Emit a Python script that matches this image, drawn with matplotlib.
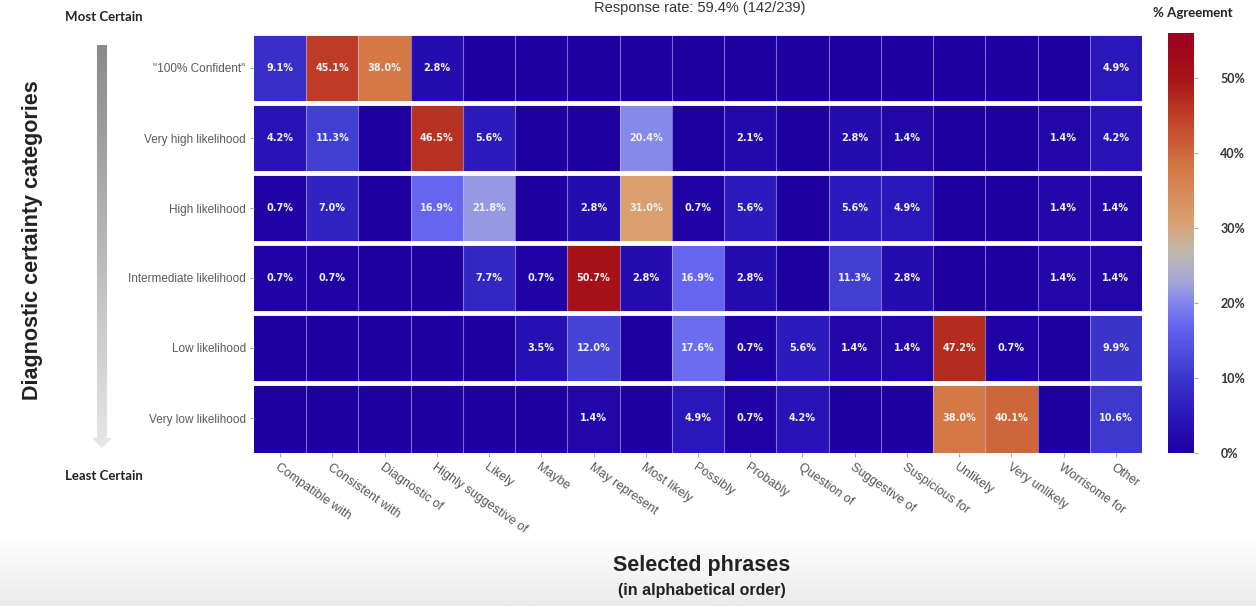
import numpy as np
import matplotlib
matplotlib.use('Agg')
import matplotlib.pyplot as plt
from matplotlib.colors import LinearSegmentedColormap
from matplotlib.patches import Polygon

phrases = ['Compatible with', 'Consistent with', 'Diagnostic of', 'Highly suggestive of',
           'Likely', 'Maybe', 'May represent', 'Most likely', 'Possibly', 'Probably',
           'Question of', 'Suggestive of', 'Suspicious for', 'Unlikely', 'Very unlikely',
           'Worrisome for', 'Other']
categories = ['"100% Confident"', 'Very high likelihood', 'High likelihood',
              'Intermediate likelihood', 'Low likelihood', 'Very low likelihood']

# % agreement per phrase, one list per certainty category
confident_100 = [9.1, 45.1, 38.0, 2.8, 0, 0, 0, 0, 0, 0, 0, 0, 0, 0, 0, 0, 4.9]
very_high = [4.2, 11.3, 0, 46.5, 5.6, 0, 0, 20.4, 0, 2.1, 0, 2.8, 1.4, 0, 0, 1.4, 4.2]
high = [0.7, 7.0, 0, 16.9, 21.8, 0, 2.8, 31.0, 0.7, 5.6, 0, 5.6, 4.9, 0, 0, 1.4, 1.4]
intermediate = [0.7, 0.7, 0, 0, 7.7, 0.7, 50.7, 2.8, 16.9, 2.8, 0, 11.3, 2.8, 0, 0, 1.4, 1.4]
low = [0, 0, 0, 0, 0, 3.5, 12.0, 0, 17.6, 0.7, 5.6, 1.4, 1.4, 47.2, 0.7, 0, 9.9]
very_low = [0, 0, 0, 0, 0, 0, 1.4, 0, 4.9, 0.7, 4.2, 0, 0, 38.0, 40.1, 0, 10.6]

cbar_ticks = [0, 10, 20, 30, 40, 50]
vmax = 56

agreement = np.array([confident_100, very_high, high, intermediate, low, very_low])

cmap = LinearSegmentedColormap.from_list('agree', [
    (0.00, '#1e00a0'), (0.08, '#2a14b8'), (0.18, '#3a36cc'), (0.30, '#6464f0'),
    (0.36, '#8286ec'), (0.41, '#a4a8d8'), (0.48, '#c2b8ac'), (0.55, '#d9a070'),
    (0.68, '#d47844'), (0.80, '#c04028'), (0.89, '#a81418'), (1.00, '#9a0020')])

W, H = 1256, 606
fig = plt.figure(figsize=(W / 100, H / 100), dpi=100)


def box(l, t, r, b):
    return [l / W, 1 - b / H, (r - l) / W, (b - t) / H]


# faint grey fade along the bottom edge
bg = fig.add_axes([0, 0, 1, 70 / H], zorder=-10)
bg.imshow(np.linspace(0, 1, 60)[:, None],
          cmap=LinearSegmentedColormap.from_list('bg', ['#ffffff', '#ebebeb']),
          aspect='auto', extent=[0, 1, 0, 1])
bg.axis('off')

ax = fig.add_axes(box(254, 33, 1142, 453))
mesh = ax.pcolormesh(np.arange(len(phrases) + 1), np.arange(len(categories) + 1),
                     agreement, cmap=cmap, vmin=0, vmax=vmax)
ax.set_xlim(0, len(phrases))
ax.set_ylim(len(categories), 0)
for x in range(1, len(phrases)):
    ax.axvline(x, color='#c8c0ff', lw=0.8, alpha=0.55)
for y in range(0, len(categories)):
    ax.axhline(y, color='white', lw=3.5)

for i in range(len(categories)):
    for j in range(len(phrases)):
        v = agreement[i, j]
        if v > 0:
            ax.text(j + 0.5, i + 0.5, f'{v:.1f}%', ha='center', va='center',
                    fontsize=7, fontweight='bold', color='#f0f0f0')

ax.set_xticks(np.arange(len(phrases)) + 0.5)
ax.set_xticklabels(phrases, rotation=-35, ha='left', va='top', rotation_mode='anchor',
                   fontsize=9, color='#555555', family='Liberation Sans')
ax.set_yticks(np.arange(len(categories)) + 0.5)
ax.set_yticklabels(categories, fontsize=8.5, color='#5a5a5a', family='Liberation Sans')
ax.tick_params(length=3, color='#aaaaaa', pad=3)
for s in ax.spines.values():
    s.set_visible(False)

cax = fig.add_axes(box(1168, 33, 1194, 453))
cb = fig.colorbar(mesh, cax=cax, ticks=cbar_ticks)
cb.set_ticklabels([f'{t}%' for t in cbar_ticks])
cb.outline.set_visible(False)
cax.tick_params(length=3, color='#aaaaaa', pad=16, labelsize=9, labelcolor='#333333')
for lab in cax.get_yticklabels():
    lab.set_fontweight('bold')
    lab.set_family('Lato')

# grey certainty arrow on the left
arr = fig.add_axes(box(90, 45, 114, 448))
arr.set_xlim(0, 1)
arr.set_ylim(0, 1)
arr.axis('off')
grad = arr.imshow(np.linspace(0, 1, 100)[:, None],
                  cmap=LinearSegmentedColormap.from_list('g', ['#8a8a8a', '#e6e6e6']),
                  extent=[0, 1, 0, 1], aspect='auto')
head = 0.025
poly = Polygon([(0.29, 1), (0.71, 1), (0.71, head), (0.92, head), (0.5, 0),
                (0.08, head), (0.29, head)], closed=True, transform=arr.transAxes,
               facecolor='none', edgecolor='none')
arr.add_patch(poly)
grad.set_clip_path(poly)

fig.text(104 / W, 1 - 17 / H, 'Most Certain', ha='center', va='center',
         fontsize=9.5, fontweight='bold', family='Lato', color='#222222')
fig.text(104 / W, 1 - 476 / H, 'Least Certain', ha='center', va='center',
         fontsize=9.5, fontweight='bold', family='Lato', color='#222222')
fig.text(1193 / W, 1 - 13 / H, '% Agreement', ha='center', va='center',
         fontsize=9.5, fontweight='bold', family='Lato', color='#222222')
fig.text(700 / W, 1 - 1 / H, 'Response rate: 59.4% (142/239)', ha='center', va='top',
         fontsize=10.5, family='Liberation Sans', color='#333333')

fig.text(33 / W, 1 - 240 / H, 'Diagnostic certainty categories', rotation=90,
         ha='center', va='center', fontsize=15.5, fontweight='bold',
         family='Liberation Sans', color='#222222')
fig.text(702 / W, 1 - 566 / H, 'Selected phrases', ha='center', va='center',
         fontsize=15.5, fontweight='bold', family='Liberation Sans', color='#222222')
fig.text(702 / W, 1 - 591 / H, '(in alphabetical order)', ha='center', va='center',
         fontsize=11.5, fontweight='bold', family='Liberation Sans', color='#222222')

fig.savefig('out.png', dpi=100)
